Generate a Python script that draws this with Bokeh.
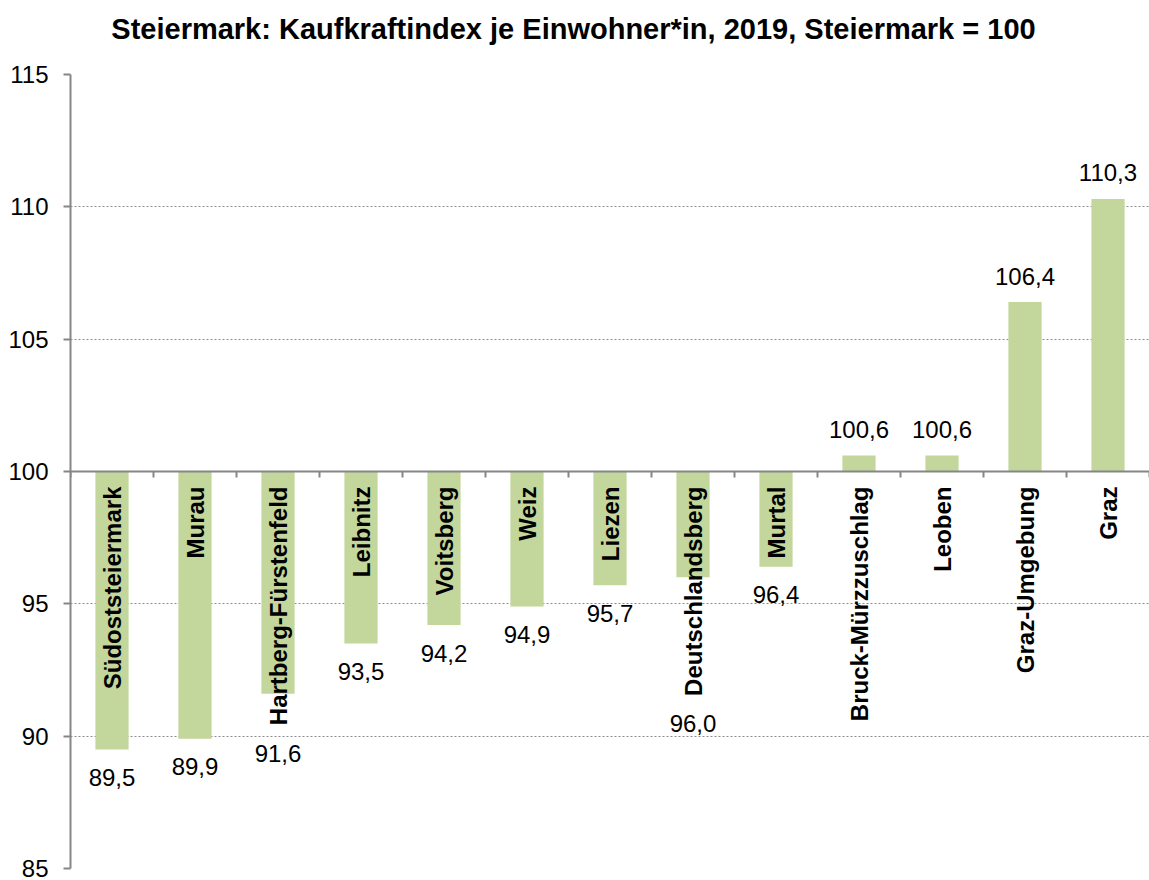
import math
from bokeh.plotting import figure
from bokeh.layouts import column
from bokeh.models import Range1d, FixedTicker, LinearAxis, ColumnDataSource
from bokeh.embed import file_html
from bokeh.resources import INLINE
from bokeh.core.properties import value

# ---------------- data ----------------
categories = ["Südoststeiermark", "Murau", "Hartberg-Fürstenfeld", "Leibnitz",
              "Voitsberg", "Weiz", "Liezen", "Deutschlandsberg", "Murtal",
              "Bruck-Mürzzuschlag", "Leoben", "Graz-Umgebung", "Graz"]
values = [89.5, 89.9, 91.6, 93.5, 94.2, 94.9, 95.7, 96.0, 96.4,
          100.6, 100.6, 106.4, 110.3]
y_ticks = [85, 90, 95, 100, 105, 110, 115]
baseline = 100
title_text = "Steiermark: Kaufkraftindex je Einwohner*in, 2019, Steiermark = 100"

# ---------------- layout / style ----------------
W, H_TOTAL = 1149, 880
TITLE_H = 56          # height of the title strip
TITLE_CX = 573        # horizontal centre of the title (page px)
H = H_TOTAL - TITLE_H
B_L, B_T, B_B = 70, 74 - TITLE_H, 12
FONT = "Liberation Sans"
frame_h = H - B_T - B_B
ymin, ymax = y_ticks[0], y_ticks[-1]
ppu = frame_h / (ymax - ymin)
BAR_COLOR = "#C3D69B"
GRAY = "#868686"
CAT_SIZE = 24
VAL_SIZE = 24
CAT_TOP_GAP = 15
VAL_GAP = 28

# Arial-bold advance widths (1/1000 em) to estimate rotated label length
_bw = {'a': 556, 'b': 611, 'c': 556, 'd': 611, 'e': 556, 'f': 333, 'g': 611, 'h': 611,
       'i': 278, 'j': 278, 'k': 556, 'l': 278, 'm': 889, 'n': 611, 'o': 611, 'p': 611,
       'q': 611, 'r': 389, 's': 556, 't': 333, 'u': 611, 'v': 556, 'w': 778, 'x': 556,
       'y': 556, 'z': 500, 'ü': 611, '-': 333, 'A': 722, 'B': 722, 'C': 722, 'D': 722,
       'E': 667, 'F': 611, 'G': 778, 'H': 722, 'L': 611, 'M': 833, 'S': 667, 'V': 667,
       'W': 944}


def text_px(s, size):
    return sum(_bw.get(ch, 600) for ch in s) / 1000.0 * size


n = len(categories)
xs = [i + 0.5 for i in range(n)]

# ---------------- title strip (frame aligned with the chart frame) ----------------
t = figure(width=W, height=TITLE_H, output_backend="svg", toolbar_location=None,
           x_range=Range1d(B_L, W), y_range=Range1d(0, TITLE_H),
           x_axis_type=None, y_axis_type=None, min_border=0,
           min_border_left=B_L)
t.outline_line_color = None
t.xgrid.visible = False
t.ygrid.visible = False
t.background_fill_color = "white"
t.border_fill_color = "white"
t.text(x=[TITLE_CX], y=[TITLE_H / 2], text=[title_text], text_align="center",
       text_baseline="middle", text_font=value(FONT), text_font_style="bold",
       text_font_size="29px", text_color="black")

# ---------------- main chart ----------------
p = figure(width=W, height=H, output_backend="svg", toolbar_location=None,
           x_range=Range1d(0, n), y_range=Range1d(ymin, ymax),
           x_axis_type=None, min_border_left=B_L, min_border_top=B_T,
           min_border_bottom=B_B, min_border_right=0)
p.outline_line_color = None
p.background_fill_color = "white"
p.border_fill_color = "white"

# y axis
p.yaxis.ticker = FixedTicker(ticks=y_ticks)
p.yaxis.axis_line_color = GRAY
p.yaxis.axis_line_width = 2
p.yaxis.major_tick_line_color = GRAY
p.yaxis.major_tick_line_width = 2
p.yaxis.major_tick_out = 7
p.yaxis.major_tick_in = 0
p.yaxis.minor_tick_line_color = None
p.yaxis.major_label_standoff = 15
p.yaxis.major_label_text_font = FONT
p.yaxis.major_label_text_font_size = "24px"
p.yaxis.major_label_text_color = "black"

p.ygrid.ticker = FixedTicker(ticks=y_ticks)
p.ygrid.grid_line_color = "#8c8c8c"
p.ygrid.grid_line_dash = "2 2"
p.ygrid.grid_line_width = 1

# bars
src = ColumnDataSource(dict(x=xs, top=values, bottom=[baseline] * n))
p.vbar(x="x", top="top", bottom="bottom", width=0.4, source=src,
       fill_color=BAR_COLOR, line_color=None)

# category axis crossing at 100
xax = LinearAxis(fixed_location=baseline, ticker=FixedTicker(ticks=list(range(0, n + 1))))
xax.axis_line_color = GRAY
xax.axis_line_width = 2
xax.major_tick_line_color = GRAY
xax.major_tick_line_width = 2
xax.major_tick_out = 6
xax.major_tick_in = 0
xax.minor_tick_line_color = None
xax.major_label_text_font_size = "0px"
xax.major_label_text_color = None
xax.major_label_standoff = 0
p.add_layout(xax, "below")

# category labels (rotated, hanging below the 100 line)
p.text(x=xs, y=[baseline] * n, text=categories, angle=math.pi / 2,
       y_offset=CAT_TOP_GAP, text_align="right", text_baseline="middle",
       text_font=value(FONT), text_font_style="bold",
       text_font_size=f"{CAT_SIZE}px", text_color="black")

# value labels
vy, voff = [], []
for c, v in zip(categories, values):
    if v < baseline:
        cat_end = baseline - (CAT_TOP_GAP + text_px(c, CAT_SIZE)) / ppu
        vy.append(min(v, cat_end))
        voff.append(VAL_GAP)
    else:
        vy.append(v)
        voff.append(-VAL_GAP + 2)
vlabels = [f"{v:.1f}".replace(".", ",") for v in values]
p.text(x=xs, y=vy, text=vlabels, y_offset=voff, text_align="center",
       text_baseline="middle", text_font=value(FONT),
       text_font_size=f"{VAL_SIZE}px", text_color="black")

layout = column(t, p, spacing=0)
open("out.html", "w").write(file_html(layout, INLINE))
